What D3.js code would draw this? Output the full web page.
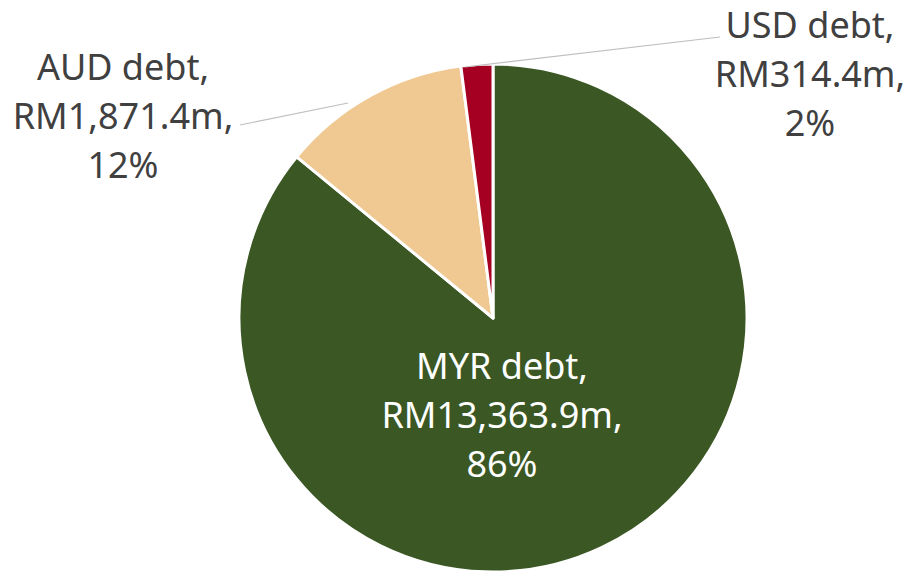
<!DOCTYPE html>
<html>
<head>
<meta charset="utf-8">
<script src="https://cdn.jsdelivr.net/npm/d3@7/dist/d3.min.js"></script>
<style>
  body { margin: 0; background: #fff; }
  text { font-family: "Noto Sans", "Open Sans", sans-serif; }
</style>
</head>
<body>
<div id="chart"></div>
<script>
const categories = ["MYR debt", "AUD debt", "USD debt"];
const values = [13363.9, 1871.4, 314.4];
const colors = ["#3A5724", "#F0C891", "#A50021"];

const WIDTH = 908, HEIGHT = 571;
const CX = 493, CY = 318, R = 254;

// where each label block sits (centre x, first baseline y), and leader line ends
const LABELS = [
  { x: 502, y: 379, fill: "#fff", leader: null },
  { x: 123, y: 80, fill: "#404040", leader: [[240, 125], [348, 103]] },
  { x: 810, y: 38, fill: "#404040", leader: [[720, 37], [465, 67]] }
];
const LINE_H = 49;

const svg = d3.select("#chart")
  .append("svg")
  .attr("width", WIDTH)
  .attr("height", HEIGHT);

const total = d3.sum(values);
const data = categories.map((c, i) => ({ name: c, value: values[i], color: colors[i] }));

const pie = d3.pie()
  .value(d => d.value)
  .sort(null);

const arc = d3.arc()
  .innerRadius(0)
  .outerRadius(R);

const g = svg.append("g")
  .attr("transform", `translate(${CX}, ${CY})`);

g.selectAll("path")
  .data(pie(data))
  .enter()
  .append("path")
  .attr("d", arc)
  .attr("fill", d => d.data.color)
  .attr("stroke", "#fff")
  .attr("stroke-width", 3)
  .attr("stroke-linejoin", "round");

const fmtNum = d3.format(",.1f");
const fmtPct = d3.format(".0%");

data.forEach((d, i) => {
  const pos = LABELS[i];
  if (pos.leader) {
    svg.append("line")
      .attr("x1", pos.leader[0][0])
      .attr("y1", pos.leader[0][1])
      .attr("x2", pos.leader[1][0])
      .attr("y2", pos.leader[1][1])
      .attr("stroke", "#BFBFBF")
      .attr("stroke-width", 1.2);
  }
  const lines = [d.name + ",", "RM" + fmtNum(d.value) + "m,", fmtPct(d.value / total)];
  const t = svg.append("text")
    .attr("text-anchor", "middle")
    .attr("font-size", 36)
    .attr("fill", pos.fill);
  lines.forEach((s, k) => {
    t.append("tspan")
      .attr("x", pos.x)
      .attr("y", pos.y + k * LINE_H)
      .text(s);
  });
});
</script>
</body>
</html>
